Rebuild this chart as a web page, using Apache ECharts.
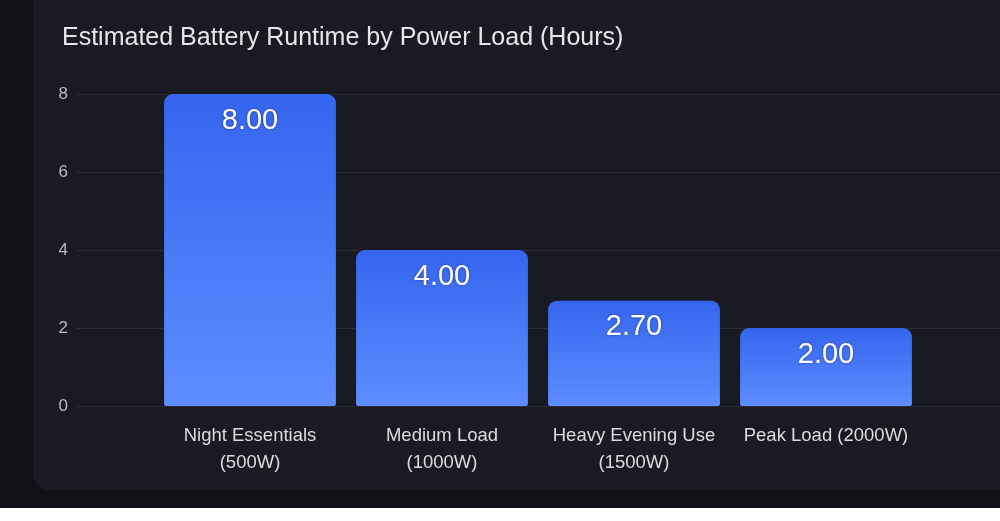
<!DOCTYPE html>
<html>
<head>
<meta charset="utf-8">
<script src="https://cdn.jsdelivr.net/npm/echarts@6/dist/echarts.min.js"></script>
<style>
html,body{margin:0;padding:0;width:1000px;height:521px;overflow:hidden;background:#ffffff;}
#outer{position:absolute;left:0;top:0;width:1000px;height:508px;background:#111217;}
#card{position:absolute;left:33px;top:-30px;width:1000px;height:520px;background:#1a1b22;border-radius:16px;}
#chart{position:absolute;left:0;top:0;width:1000px;height:521px;}
</style>
</head>
<body>
<div id="outer"></div>
<div id="card"></div>
<div id="chart"></div>
<script>
const titleText = 'Estimated Battery Runtime by Power Load (Hours)';
const categories = ['Night Essentials\n(500W)', 'Medium Load\n(1000W)', 'Heavy Evening Use\n(1500W)', 'Peak Load (2000W)'];
const runtimeHours = [8.00, 4.00, 2.70, 2.00];
const yTicks = {min: 0, max: 8, interval: 2};

const chart = echarts.init(document.getElementById('chart'), null, {renderer: 'canvas'});
const gridTop = 94, gridBottom = 521 - 406;
const ff = 'Liberation Sans, Arial, sans-serif';
chart.setOption({
  backgroundColor: 'transparent',
  animation: false,
  title: {
    text: titleText,
    left: 57, top: 21,
    textStyle: {color: '#e6e6ea', fontSize: 25, fontWeight: 'normal', fontFamily: ff}
  },
  grid: [
    {left: 77, right: 0, top: gridTop, bottom: gridBottom},
    {left: 154, right: 78, top: gridTop, bottom: gridBottom}
  ],
  xAxis: [
    {gridIndex: 0, type: 'value', min: 0, max: 1, show: false},
    {gridIndex: 1, type: 'category', data: categories,
      axisLine: {show: false}, axisTick: {show: false},
      axisLabel: {color: '#dcdce0', fontSize: 18.5, lineHeight: 27, margin: 16, interval: 0, fontFamily: ff}}
  ],
  yAxis: [
    {gridIndex: 0, type: 'value', min: yTicks.min, max: yTicks.max, interval: yTicks.interval,
      axisLine: {show: false}, axisTick: {show: false},
      axisLabel: {color: '#b8b8be', fontSize: 17, margin: 9, fontFamily: ff},
      splitLine: {lineStyle: {color: '#2c2d35', width: 1}}},
    {gridIndex: 1, type: 'value', min: yTicks.min, max: yTicks.max, interval: yTicks.interval, show: false,
      splitLine: {show: false}}
  ],
  series: [{
    type: 'bar',
    xAxisIndex: 1, yAxisIndex: 1,
    data: runtimeHours,
    barWidth: '89.5%',
    itemStyle: {
      borderRadius: [9, 9, 2, 2],
      color: new echarts.graphic.LinearGradient(0, 0, 0, 1, [
        {offset: 0, color: '#3565ee'},
        {offset: 1, color: '#5d8dff'}
      ])
    },
    label: {
      show: true, position: 'insideTop', distance: 12,
      formatter: p => p.value.toFixed(2),
      color: '#ffffff', fontSize: 29, fontFamily: ff,
      textShadowColor: 'rgba(0,0,0,0.35)', textShadowBlur: 3
    }
  }]
});
</script>
</body>
</html>
